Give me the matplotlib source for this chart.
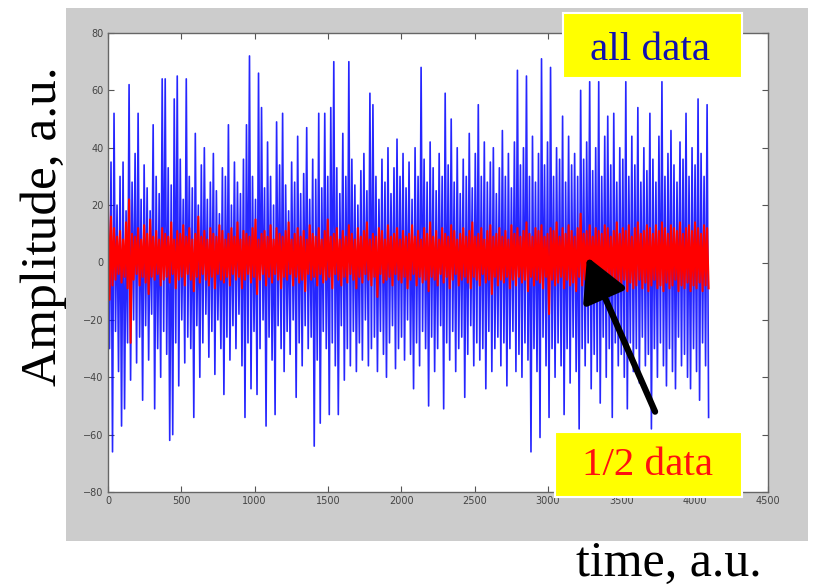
import numpy as np
import matplotlib.pyplot as plt
from matplotlib.patches import Rectangle

W, H = 813, 587

# 4096 samples, drawn as alternating crest/trough pairs
n_samples = 4096

blue_hi = [24, 35, 52, 20, 30, 35, 18, 62, 28, 38, 52, 22, 34, 26, 18, 48, 30, 24, 64, 64,
           33, 27, 57, 65, 36, 22, 64, 30, 26, 45, 20, 34, 40, 22, 28, 38, 25, 17, 33, 30,
           48, 20, 35, 28, 24, 36, 48, 72, 30, 22, 66, 54, 26, 42, 30, 20, 49, 34, 52, 27,
           18, 35, 28, 44, 24, 31, 47, 22, 36, 29, 52, 26, 52, 30, 54, 70, 33, 24, 45, 30,
           70, 36, 27, 20, 32, 38, 25, 59, 55, 30, 22, 36, 28, 40, 24, 33, 43, 30, 38, 26,
           35, 22, 40, 30, 68, 36, 28, 42, 33, 25, 38, 30, 59, 34, 50, 28, 40, 24, 36, 30,
           45, 26, 38, 55, 30, 42, 28, 35, 40, 24, 33, 46, 30, 38, 26, 42, 67, 34, 40, 65,
           30, 44, 28, 38, 71, 34, 42, 68, 30, 40, 36, 51, 28, 44, 34, 38, 30, 60, 36, 42,
           63, 32, 40, 63, 30, 44, 51, 34, 52, 28, 40, 36, 63, 30, 44, 34, 54, 28, 40, 32,
           52, 36, 28, 44, 63, 30, 38, 46, 34, 28, 42, 36, 52, 30, 40, 34, 57, 38, 30, 55]

blue_lo = [-30, -66, -24, -38, -57, -51, -28, -41, -20, -35, -26, -48, -22, -34, -18, -51, -30, -40, -24, -32,
           -62, -60, -28, -43, -20, -35, -26, -30, -54, -22, -40, -28, -18, -33, -24, -39, -20, -30, -46, -26,
           -34, -22, -30, -18, -36, -54, -28, -44, -24, -46, -30, -20, -57, -26, -34, -53, -22, -30, -38, -24,
           -32, -20, -47, -28, -36, -22, -30, -26, -64, -34, -56, -24, -30, -53, -28, -36, -53, -22, -41, -30,
           -36, -24, -38, -28, -34, -20, -36, -30, -26, -38, -24, -32, -40, -28, -22, -37, -30, -26, -34, -20,
           -32, -44, -28, -36, -24, -30, -50, -26, -38, -30, -22, -51, -28, -34, -24, -38, -30, -26, -47, -32,
           -22, -36, -28, -34, -30, -44, -24, -38, -30, -26, -36, -28, -43, -30, -24, -38, -32, -40, -28, -34,
           -66, -30, -38, -61, -26, -36, -54, -30, -40, -28, -36, -53, -30, -42, -26, -38, -58, -30, -36, -28,
           -44, -32, -38, -49, -26, -40, -30, -54, -28, -36, -32, -40, -51, -28, -38, -30, -42, -26, -36, -32,
           -58, -30, -40, -28, -36, -43, -30, -38, -44, -26, -36, -32, -40, -44, -30, -38, -48, -28, -36, -54]

red_hi = [20, 16, 12, 9, 11, 8, 14, 22, 10, 9, 12, 8, 13, 10, 15, 9, 11, 8, 12, 10,
          9, 14, 8, 11, 10, 13, 9, 12, 8, 10, 16, 9, 11, 8, 12, 10, 9, 13, 11, 8,
          10, 12, 9, 14, 8, 11, 10, 9, 12, 15, 8, 10, 11, 9, 13, 8, 12, 10, 9, 11,
          14, 8, 10, 12, 9, 11, 8, 13, 10, 9, 12, 8, 11, 15, 9, 10, 12, 8, 11, 9,
          13, 10, 8, 12, 9, 11, 14, 8, 10, 9, 12, 11, 8, 13, 9, 10, 12, 8, 11, 9,
          10, 13, 9, 11, 8, 12, 10, 14, 9, 11, 8, 12, 10, 9, 13, 11, 8, 10, 12, 9,
          11, 14, 9, 10, 12, 8, 11, 13, 9, 10, 12, 9, 11, 8, 13, 10, 12, 9, 11, 14,
          10, 9, 12, 11, 13, 9, 10, 12, 11, 14, 9, 12, 10, 13, 11, 9, 12, 17, 10, 11,
          13, 9, 12, 11, 10, 13, 12, 9, 11, 14, 10, 12, 11, 13, 9, 12, 14, 10, 11, 13,
          12, 10, 13, 11, 14, 12, 10, 13, 12, 11, 14, 10, 12, 13, 11, 14, 12, 10, 13, 12]

red_lo = [-13, -8, -6, -4, -7, -5, -9, -28, -6, -4, -8, -5, -7, -11, -5, -6, -4, -8, -6, -5,
          -7, -4, -9, -6, -5, -8, -4, -6, -10, -5, -7, -4, -6, -8, -5, -9, -4, -6, -7, -5,
          -8, -4, -6, -5, -9, -6, -4, -7, -5, -11, -6, -4, -8, -5, -7, -4, -6, -9, -5, -6,
          -4, -8, -5, -7, -6, -10, -4, -6, -5, -8, -4, -7, -6, -5, -9, -4, -6, -8, -5, -7,
          -4, -6, -9, -5, -7, -4, -6, -8, -5, -12, -4, -7, -6, -5, -8, -4, -6, -7, -5, -9,
          -6, -4, -8, -5, -7, -6, -10, -5, -6, -8, -4, -7, -5, -9, -6, -4, -8, -6, -5, -7,
          -9, -5, -6, -8, -4, -7, -6, -11, -5, -8, -6, -7, -5, -9, -6, -8, -5, -7, -6, -10,
          -5, -8, -6, -7, -9, -5, -18, -6, -8, -7, -5, -9, -6, -8, -7, -10, -5, -8, -6, -9,
          -7, -5, -8, -6, -10, -7, -8, -6, -9, -7, -8, -6, -10, -7, -9, -8, -6, -9, -7, -10,
          -8, -6, -9, -8, -10, -7, -9, -8, -6, -10, -8, -9, -7, -10, -8, -9, -7, -10, -8, -9]

x_ticks = [0, 500, 1000, 1500, 2000, 2500, 3000, 3500, 4000, 4500]
y_ticks = [-80, -60, -40, -20, 0, 20, 40, 60, 80]


def interleave(hi, lo):
    return np.column_stack([hi, lo]).ravel()


def px_box(x0, y0, x1, y1):
    # pixel box (top-left origin) -> figure fraction rectangle
    return (x0 / W, 1 - y1 / H), (x1 - x0) / W, (y1 - y0) / H


blue = interleave(blue_hi, blue_lo)
red = interleave(red_hi, red_lo)
t_blue = np.linspace(0, n_samples - 1, len(blue))
t_red = np.linspace(0, n_samples - 1, len(red))

fig = plt.figure(figsize=(W / 100, H / 100), dpi=100)
fig.patch.set_facecolor('white')

# matlab-style grey figure panel
xy, w, h = px_box(66, 8, 808, 541)
fig.patches.append(Rectangle(xy, w, h, transform=fig.transFigure,
                             fc='#cccccc', ec='none', zorder=-1))

ax = fig.add_axes([108 / W, 1 - 492 / H, 660 / W, 459 / H])
ax.plot(t_blue, blue, color='#0000ff', lw=1.2, alpha=0.85)
ax.plot(t_red, red, color='#ff0000', lw=1.5)
ax.set_xlim(0, 4500)
ax.set_ylim(-80, 80)
ax.set_xticks(x_ticks)
ax.set_yticks(y_ticks)
ax.tick_params(direction='in', length=4, width=0.8, color='#555555',
               labelsize=7, labelcolor='#444444', top=True, right=True, pad=3)
for s in ax.spines.values():
    s.set_color('#666666')
    s.set_linewidth(1.0)

# arrow pointing at the red band
ax.annotate('', xy=(3266, 2), xytext=(3730, -52),
            arrowprops=dict(arrowstyle='-|>,head_length=1.3,head_width=0.7',
                            color='black', lw=4.5, mutation_scale=20,
                            shrinkA=0, shrinkB=0),
            annotation_clip=False)

# yellow labels
xy, w, h = px_box(563, 13, 742, 78)
fig.patches.append(Rectangle(xy, w, h, transform=fig.transFigure,
                             fc='#ffff00', ec='white', lw=1.5, zorder=2))
fig.text(650 / W, 1 - 60 / H, 'all data', color='#1010b0', fontsize=29.5,
         family='Liberation Serif', ha='center', va='baseline', zorder=3)

xy, w, h = px_box(555, 432, 742, 497)
fig.patches.append(Rectangle(xy, w, h, transform=fig.transFigure,
                             fc='#ffff00', ec='white', lw=1.5, zorder=2))
fig.text(647 / W, 1 - 475 / H, '1/2 data', color='#ff1010', fontsize=29.5,
         family='Liberation Serif', ha='center', va='baseline', zorder=3)

# axis titles outside the grey panel
fig.text(44 / W, 1 - 226 / H, 'Amplitude, a.u.', fontsize=37, rotation=90,
         family='Liberation Serif', ha='center', va='center')
fig.text(576 / W, 1 - 576 / H, 'time, a.u.', fontsize=36,
         family='Liberation Serif', ha='left', va='baseline')

fig.savefig('out.png', dpi=100)
